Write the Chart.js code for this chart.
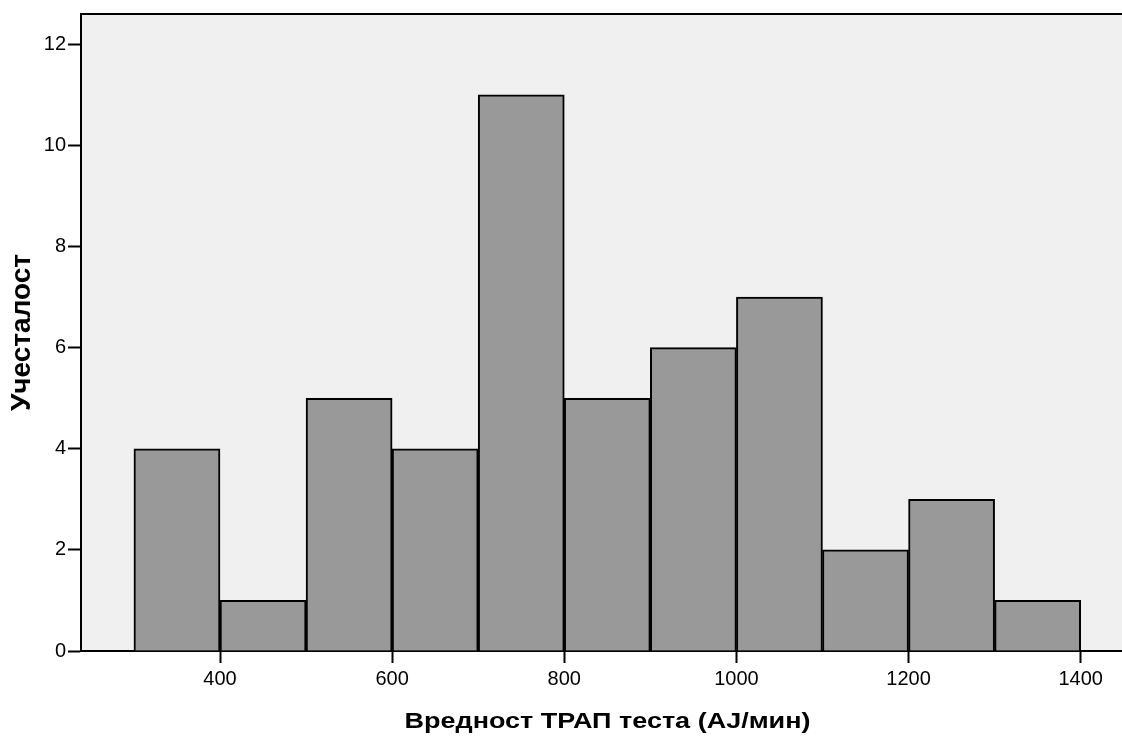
<!DOCTYPE html>
<html>
<head>
<meta charset="utf-8">
<script src="https://cdn.jsdelivr.net/npm/chart.js@4/dist/chart.umd.min.js"></script>
<style>
  html, body { margin: 0; padding: 0; background: #ffffff; overflow: hidden; }
  #wrap { width: 1122px; height: 737px; }
</style>
</head>
<body>
<div id="wrap"><canvas id="hist"></canvas></div>
<script>
// Histogram bins: centre of each 100-wide class and its frequency
const binCenters = [350, 450, 550, 650, 750, 850, 950, 1050, 1150, 1250, 1350];
const frequencies = [4, 1, 5, 4, 11, 5, 6, 7, 2, 3, 1];
const xTickValues = [400, 600, 800, 1000, 1200, 1400];
const yTickValues = [0, 2, 4, 6, 8, 10, 12];
const xTitle = 'Вредност ТРАП теста (AJ/мин)';
const yTitle = 'Учесталост';

const points = binCenters.map((c, i) => ({ x: c, y: frequencies[i] }));
const FONT_FAMILY = '"Liberation Sans", Arial, sans-serif';

// Grey plot background, top frame line and the two axis titles
const plotFrame = {
  id: 'plotFrame',
  beforeDraw(chart) {
    const { ctx, chartArea: a } = chart;
    ctx.save();
    ctx.fillStyle = '#f0f0f0';
    ctx.fillRect(a.left, a.top, a.right - a.left, a.bottom - a.top);
    ctx.restore();
  },
  afterDraw(chart) {
    const { ctx, chartArea: a } = chart;
    ctx.save();
    ctx.strokeStyle = '#000000';
    ctx.lineWidth = 2;
    ctx.beginPath();
    ctx.moveTo(a.left - 1, a.top);
    ctx.lineTo(a.right, a.top);
    ctx.stroke();

    ctx.fillStyle = '#000000';
    ctx.font = 'bold 27px ' + FONT_FAMILY;
    ctx.textAlign = 'center';
    ctx.textBaseline = 'alphabetic';

    // horizontal axis title, slightly flattened
    ctx.save();
    ctx.translate((a.left + a.right) / 2 + 6, a.bottom + 77);
    ctx.scale(1, 0.85);
    ctx.fillText(xTitle, 0, 0);
    ctx.restore();

    // vertical axis title
    ctx.save();
    ctx.font = 'bold 28px ' + FONT_FAMILY;
    ctx.translate(a.left - 51, (a.top + a.bottom) / 2);
    ctx.rotate(-Math.PI / 2);
    ctx.fillText(yTitle, 0, 0);
    ctx.restore();

    ctx.restore();
  }
};

const tickFont = { family: FONT_FAMILY, size: 20 };

new Chart(document.getElementById('hist'), {
  type: 'bar',
  data: {
    datasets: [{
      data: points,
      backgroundColor: '#999999',
      borderColor: '#000000',
      borderWidth: 2,
      barPercentage: 1,
      categoryPercentage: 1
    }]
  },
  options: {
    responsive: true,
    maintainAspectRatio: false,
    animation: false,
    layout: { padding: { top: 11, right: 0, left: 0, bottom: 0 } },
    plugins: { legend: { display: false }, tooltip: { enabled: false } },
    scales: {
      x: {
        type: 'linear',
        offset: false,
        min: 238.5,
        max: 1448,
        afterBuildTicks: s => { s.ticks = xTickValues.map(v => ({ value: v })); },
        afterFit: s => { s.height = 86; },
        grid: {
          offset: false,
          drawOnChartArea: false,
          drawTicks: true,
          tickLength: 12,
          tickWidth: 2,
          tickColor: '#000000'
        },
        border: { display: true, color: '#000000', width: 2 },
        ticks: {
          color: '#000000', font: tickFont, padding: 4, maxRotation: 0, autoSkip: false,
          callback: v => String(v)
        },
        title: { display: false }
      },
      y: {
        min: 0,
        max: 12.6,
        afterBuildTicks: s => { s.ticks = yTickValues.map(v => ({ value: v })); },
        afterFit: s => { s.width = 81; },
        grid: {
          drawOnChartArea: false,
          drawTicks: true,
          tickLength: 13,
          tickWidth: 2,
          tickColor: '#000000'
        },
        border: { display: true, color: '#000000', width: 2 },
        ticks: { color: '#000000', font: tickFont, padding: 2, autoSkip: false, callback: v => String(v) },
        title: { display: false }
      }
    }
  },
  plugins: [plotFrame]
});
</script>
</body>
</html>
